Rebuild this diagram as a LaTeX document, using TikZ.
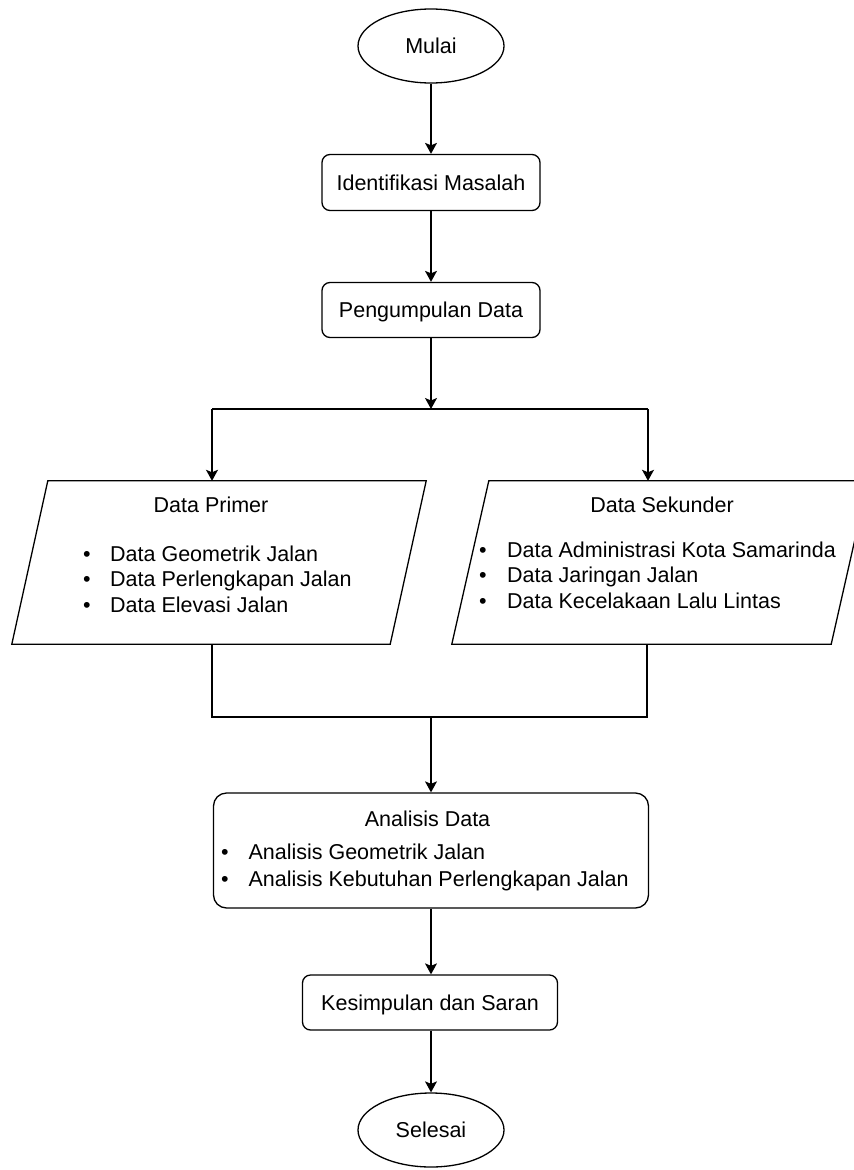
\documentclass[tikz,border=0pt]{standalone}
\usepackage{fontspec}
\setmainfont{Liberation Sans}
\usetikzlibrary{arrows.meta,calc,shapes.geometric}
\begin{document}
\begin{tikzpicture}[x=1pt,y=-1pt,
  every node/.style={font=\fontsize{21.5}{26}\selectfont, inner sep=0pt},
  line/.style={draw=black, line width=1.3pt},
  arr/.style={line, -{Stealth[length=11pt,width=12pt,inset=2.5pt]}},
  term/.style={ellipse, line, fill=white, minimum width=146pt, minimum height=74pt, text height=15.4pt, text depth=0pt},
  proc/.style={rectangle, rounded corners=8pt, line, fill=white, text height=15.4pt, text depth=0pt},
  ghost/.style={rectangle, draw=none},
  txt/.style={anchor=base},
  itm/.style={anchor=base west},
  bul/.style={anchor=base}]
\clip (0,0) rectangle (854,1170);
\fill[white] (0,0) rectangle (854,1170);

% main flow nodes
\node[term] (mulai) at (431,46) {Mulai};
\node[proc, minimum width=218pt, minimum height=56pt] (ident) at (431,182.5) {Identifikasi Masalah};
\node[proc, minimum width=218pt, minimum height=55pt] (kumpul) at (431,310) {Pengumpulan Data};

% Data Primer parallelogram
\node[ghost, minimum width=378pt, minimum height=163pt] (primer) at (219,562.5) {};
\draw[line] ($(primer.north west)+(18,0)$) -- ($(primer.north east)+(18,0)$)
  -- ($(primer.south east)+(-18,0)$) -- ($(primer.south west)+(-18,0)$) -- cycle;
\node[txt] (primerT) at (211,512.4) {Data Primer};
\node[bul] (pb1) at (87,561) {•};
\node[itm] (pi1) at (110,561) {Data Geometrik Jalan};
\node[bul] (pb2) at (87,586) {•};
\node[itm] (pi2) at (110,586) {Data Perlengkapan Jalan};
\node[bul] (pb3) at (87,612) {•};
\node[itm] (pi3) at (110,612) {Data Elevasi Jalan};

% Data Sekunder parallelogram
\node[ghost, minimum width=379pt, minimum height=163pt] (sek) at (660,562.5) {};
\draw[line] ($(sek.north west)+(18.5,0)$) -- ($(sek.north east)+(18.5,0)$)
  -- ($(sek.south east)+(-18.5,0)$) -- ($(sek.south west)+(-18.5,0)$) -- cycle;
\node[txt] (sekT) at (662,512.4) {Data Sekunder};
\node[bul] (sb1) at (483,557.2) {•};
\node[itm] (si1) at (507,557.2) {Data Administrasi Kota Samarinda};
\node[bul] (sb2) at (483,582.8) {•};
\node[itm] (si2) at (507,582.8) {Data Jaringan Jalan};
\node[bul] (sb3) at (483,608.4) {•};
\node[itm] (si3) at (507,608.4) {Data Kecelakaan Lalu Lintas};

% Analisis Data box
\node[proc, rounded corners=13pt, minimum width=435pt, minimum height=115pt] (anal) at (431,850.5) {};
\node[txt] (analT) at (427.5,826.9) {Analisis Data};
\node[bul] (ab1) at (225,859.5) {•};
\node[itm] (ai1) at (248.3,859.5) {Analisis Geometrik Jalan};
\node[bul] (ab2) at (225,886) {•};
\node[itm] (ai2) at (248.3,886) {Analisis Kebutuhan Perlengkapan Jalan};

\node[proc, minimum width=255pt, minimum height=55pt] (kes) at (430,1002.5) {Kesimpulan dan Saran};
\node[term] (sel) at (431,1130) {Selesai};

% junction coordinates
\coordinate (jc) at (431,409);
\coordinate (jl) at (212,409);
\coordinate (jr) at (648,409);
\coordinate (bl) at (212,717);
\coordinate (br) at (647,717);
\coordinate (bc) at (431,717);

% connectors
\draw[arr] (mulai) -- (ident);
\draw[arr] (ident) -- (kumpul);
\draw[arr] (kumpul) -- (jc);
\draw[line] (jl) -- (jr);
\draw[arr] (jl) -- (jl |- primer.north);
\draw[arr] (jr) -- (jr |- sek.north);
\draw[line] (primer.south -| bl) -- (bl) -- (br) -- (sek.south -| br);
\draw[arr] (bc) -- (bc |- anal.north);
\draw[arr] (anal.south -| bc) -- (kes.north -| bc);
\draw[arr] (kes.south -| bc) -- (sel);
\end{tikzpicture}
\end{document}
